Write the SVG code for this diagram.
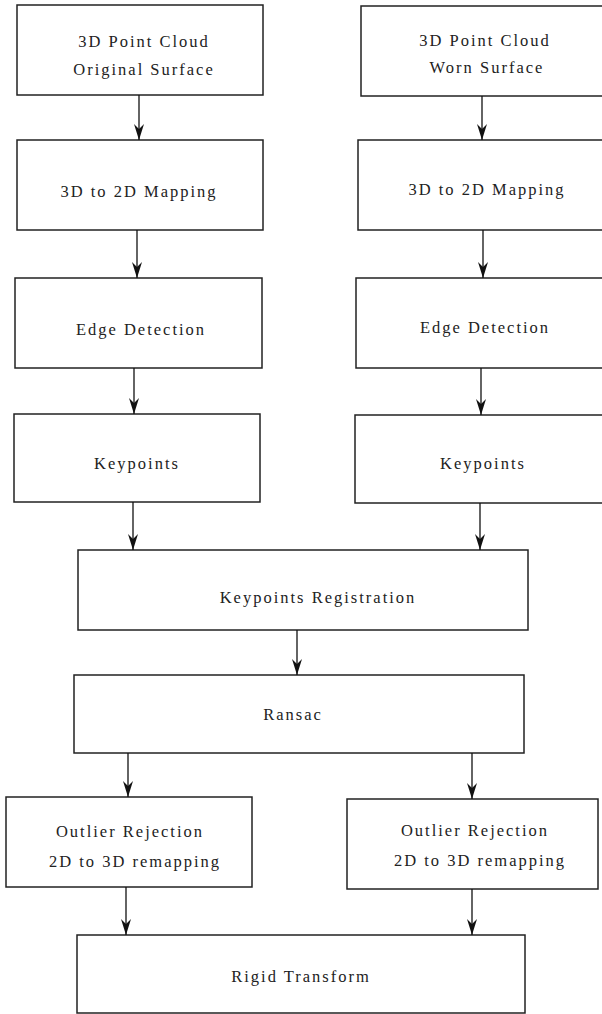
<svg xmlns="http://www.w3.org/2000/svg" width="602" height="1014" viewBox="0 0 602 1014">
<style>
.box{fill:#fff;stroke:#222;stroke-width:1.5}
.lbl{font-family:"Liberation Serif","Times New Roman",serif;font-size:16.5px;letter-spacing:2px;fill:#222;text-anchor:middle}
.con{stroke:#111;stroke-width:1.3;fill:none;marker-end:url(#ah)}
</style>
<defs>
<marker id="ah" markerUnits="userSpaceOnUse" markerWidth="18" markerHeight="14" viewBox="-17 -7 17 14" refX="0" refY="0" orient="auto">
<path d="M0,0 L-16,-5 L-11,0 L-16,5 Z" fill="#111"/>
</marker>
</defs>
<rect width="602" height="1014" fill="#fff"/>
<g id="nodeA"><rect class="box" x="17" y="5" width="246" height="90"/><text class="lbl" x="144" y="47">3D Point Cloud</text><text class="lbl" x="144" y="75">Original Surface</text></g>
<g id="nodeB"><rect class="box" x="361" y="6" width="250" height="90"/><text class="lbl" x="485" y="46">3D Point Cloud</text><text class="lbl" x="487" y="73">Worn Surface</text></g>
<g id="nodeC"><rect class="box" x="17" y="140" width="246" height="90"/><text class="lbl" x="139" y="197">3D to 2D Mapping</text></g>
<g id="nodeD"><rect class="box" x="358" y="140" width="250" height="90"/><text class="lbl" x="487" y="195">3D to 2D Mapping</text></g>
<g id="nodeE"><rect class="box" x="15" y="278" width="247" height="90"/><text class="lbl" x="141" y="335">Edge Detection</text></g>
<g id="nodeF"><rect class="box" x="356" y="278" width="250" height="90"/><text class="lbl" x="485" y="333">Edge Detection</text></g>
<g id="nodeG"><rect class="box" x="14" y="414" width="246" height="88"/><text class="lbl" x="137" y="469">Keypoints</text></g>
<g id="nodeH"><rect class="box" x="355" y="415" width="250" height="88"/><text class="lbl" x="483" y="469">Keypoints</text></g>
<g id="nodeI"><rect class="box" x="78" y="550" width="450" height="80"/><text class="lbl" x="318" y="603">Keypoints Registration</text></g>
<g id="nodeJ"><rect class="box" x="74" y="675" width="450" height="78"/><text class="lbl" x="293" y="720">Ransac</text></g>
<g id="nodeK"><rect class="box" x="6" y="797" width="246" height="90"/><text class="lbl" x="130" y="837">Outlier Rejection</text><text class="lbl" x="135" y="867">2D to 3D remapping</text></g>
<g id="nodeL"><rect class="box" x="347" y="799" width="251" height="90"/><text class="lbl" x="475" y="836">Outlier Rejection</text><text class="lbl" x="480" y="866">2D to 3D remapping</text></g>
<g id="nodeM"><rect class="box" x="77" y="935" width="448" height="78"/><text class="lbl" x="301" y="982">Rigid Transform</text></g>
<g id="connectors">
<line class="con" x1="139" y1="95" x2="139" y2="140"/>
<line class="con" x1="482" y1="96" x2="482" y2="140"/>
<line class="con" x1="137" y1="230" x2="137" y2="278"/>
<line class="con" x1="483" y1="230" x2="483" y2="278"/>
<line class="con" x1="134" y1="368" x2="134" y2="414"/>
<line class="con" x1="481" y1="368" x2="481" y2="415"/>
<line class="con" x1="133" y1="502" x2="133" y2="550"/>
<line class="con" x1="480" y1="503" x2="480" y2="550"/>
<line class="con" x1="297" y1="630" x2="297" y2="675"/>
<line class="con" x1="128" y1="753" x2="128" y2="797"/>
<line class="con" x1="472" y1="753" x2="472" y2="799"/>
<line class="con" x1="126" y1="887" x2="126" y2="935"/>
<line class="con" x1="472" y1="889" x2="472" y2="935"/>
</g>
</svg>
